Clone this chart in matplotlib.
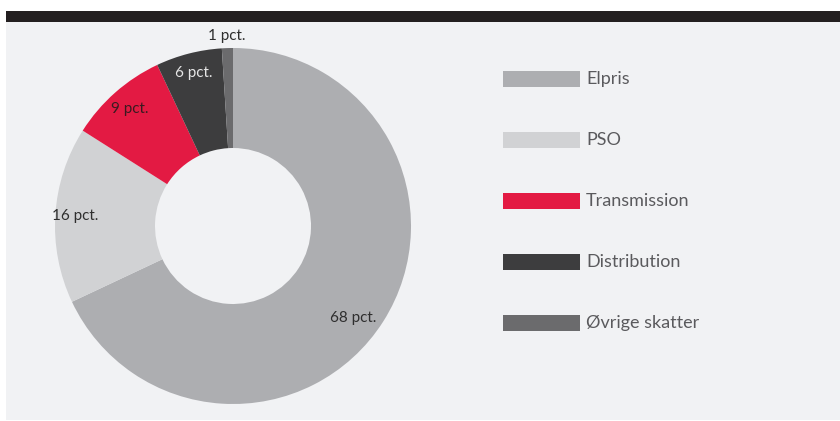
import numpy as np
import matplotlib.pyplot as plt
from matplotlib.patches import Rectangle

# data
categories = ['Elpris', 'PSO', 'Transmission', 'Distribution', 'Øvrige skatter']
shares = [68, 16, 9, 6, 1]
labels = ['68 pct.', '16 pct.', '9 pct.', '6 pct.', '1 pct.']

colors = ['#adaeb1', '#d1d2d4', '#e31a43', '#3d3d3e', '#6b6b6d']
label_colors = ['#2e2e2e', '#2e2e2e', '#3a1a20', '#e6e6e6', '#2e2e2e']
# label placement: radius factor and angle nudge (deg)
label_dist = [0.85, 0.89, 0.88, 0.89, 1.07]
label_nudge = [-5, 0, 0, 0, 0]

W, H = 840, 421
fig = plt.figure(figsize=(W / 100, H / 100), dpi=100)
fig.patch.set_facecolor('white')
ax = fig.add_axes([0, 0, 1, 1])

# background panel and top bar (pixel coords, y up)
ax.add_patch(Rectangle((6, 1), W - 6, H - 22, facecolor='#f1f2f4', edgecolor='none', zorder=0))
ax.add_patch(Rectangle((6, H - 22), W - 6, 11, facecolor='#231f20', edgecolor='none', zorder=0))

cx, cy, R = 233, H - 226, 178
wedges, _ = ax.pie(shares, colors=colors, startangle=90, counterclock=False,
                   center=(cx, cy), radius=R,
                   wedgeprops=dict(width=R - 78, linewidth=0))

for w, lab, col, d, nd in zip(wedges, labels, label_colors, label_dist, label_nudge):
    ang = np.radians((w.theta1 + w.theta2) / 2 + nd)
    ax.text(cx + d * R * np.cos(ang), cy + d * R * np.sin(ang), lab,
            ha='center', va='center', fontsize=11, family='Lato', color=col)

# legend
for i, (name, col) in enumerate(zip(categories, colors)):
    yc = H - (79 + i * 61)
    ax.add_patch(Rectangle((503, yc - 8), 77, 16, facecolor=col, edgecolor='none'))
    ax.text(586, yc, name, ha='left', va='center', fontsize=13,
            family='Lato', color='#5a5a5d')

ax.set_xlim(0, W)
ax.set_ylim(0, H)
ax.set_aspect('auto')
ax.axis('off')

fig.savefig('out.png', dpi=100, facecolor='white')
